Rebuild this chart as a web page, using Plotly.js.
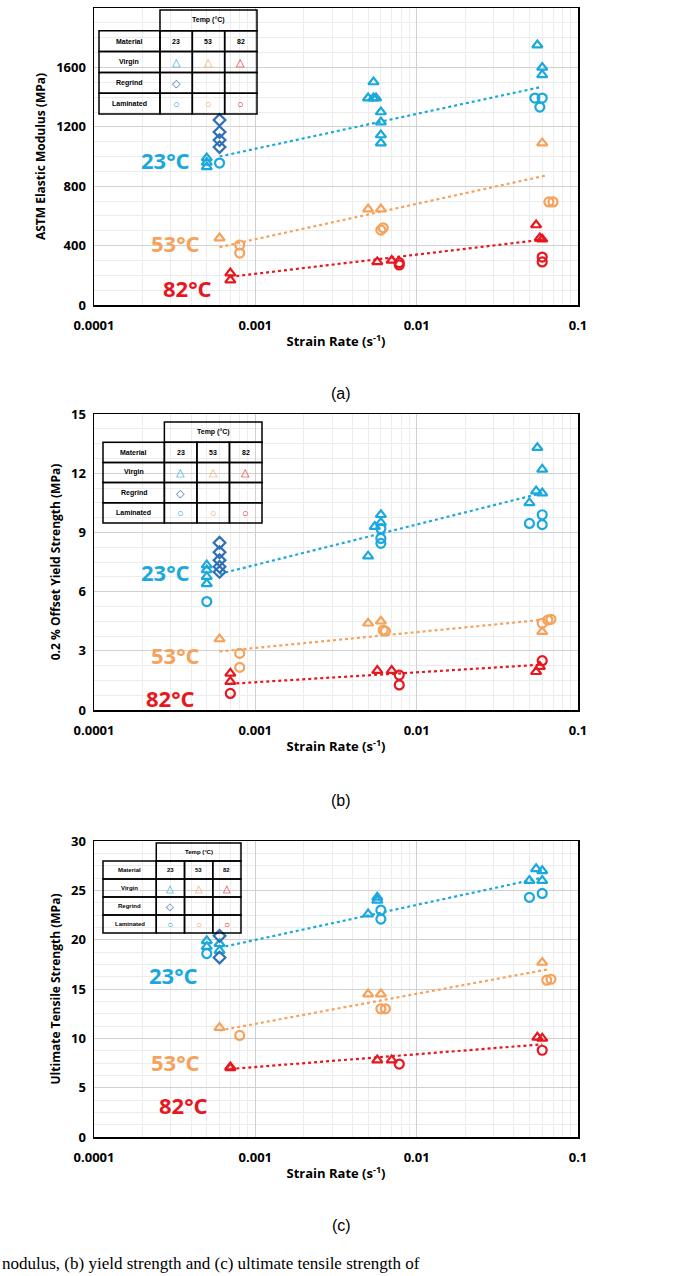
<!DOCTYPE html>
<html>
<head>
<meta charset="utf-8">
<script src="https://cdn.plot.ly/plotly-3.0.1.min.js"></script>
<style>body{margin:0;background:#fff}</style>
</head>
<body>
<div id="chart" style="width:682px;height:1276px"></div>
<script>
// ---- data (strain rate s^-1, property value) ----
// (a) ASTM elastic modulus, MPa
var a23vX = [0.0005,0.0005,0.0005,0.0054,0.005,0.0056,0.0054,0.006,0.006,0.006,0.006,0.056,0.06,0.06];
var a23vY = [930,960,990,1502,1394,1394,1394,1300,1232,1145,1091,1751,1600,1550];
var a23rX = [0.0006,0.0006,0.0006,0.0006];
var a23rY = [1246,1165,1111,1064];
var a23lX = [0.0006,0.054,0.06,0.058];
var a23lY = [956,1394,1394,1333];
var a53vX = [0.0006,0.005,0.006,0.06];
var a53vY = [451,646,646,1091];
var a53lX = [0.0008,0.0008,0.006,0.0062,0.066,0.07];
var a53lY = [404,350,505,520,694,694];
var a82vX = [0.0007,0.0007,0.0057,0.007,0.055,0.058,0.06];
var a82vY = [215,168,290,300,539,451,443];
var a82lX = [0.0078,0.0078,0.06,0.06];
var a82lY = [270,285,323,290];
var aTrendX = [[0.0006,0.06],[0.0006,0.065],[0.0007,0.06]];
var aTrendY = [[1000,1470],[390,875],[190,440]];

// (b) 0.2% offset yield strength, MPa
var b23vX = [0.0005,0.0005,0.0005,0.0005,0.005,0.0055,0.006,0.006,0.05,0.055,0.056,0.06,0.06];
var b23vY = [7.35,7.1,6.76,6.4,7.8,9.3,9.9,9.5,10.5,11.1,13.3,12.2,11.0];
var b23rX = [0.0006,0.0006,0.0006,0.0006,0.0006];
var b23rY = [8.48,8.0,7.6,7.26,7.0];
var b23lX = [0.0005,0.006,0.006,0.006,0.06,0.05,0.06];
var b23lY = [5.5,9.2,8.7,8.45,9.9,9.46,9.4];
var b53vX = [0.0006,0.005,0.006,0.06];
var b53vY = [3.6,4.4,4.5,3.97];
var b53lX = [0.0008,0.0008,0.0062,0.0064,0.06,0.065,0.068];
var b53lY = [2.87,2.16,4.05,4.0,4.4,4.56,4.6];
var b82vX = [0.0007,0.0007,0.0057,0.007,0.055,0.058];
var b82vY = [1.86,1.44,2.0,2.0,1.94,2.2];
var b82lX = [0.0007,0.0078,0.0078,0.06];
var b82lY = [0.84,1.77,1.27,2.5];
var bTrendX = [[0.0006,0.06],[0.0006,0.065],[0.0007,0.06]];
var bTrendY = [[6.9,11.0],[2.97,4.6],[1.33,2.3]];

// (c) ultimate tensile strength, MPa
var c23vX = [0.0005,0.0005,0.0006,0.0006,0.005,0.0057,0.0057,0.05,0.055,0.06,0.06];
var c23vY = [19.9,19.3,19.6,18.9,22.6,24.3,24.0,26.0,27.2,26.0,27.0];
var c23rX = [0.0006,0.0006];
var c23rY = [20.4,18.2];
var c23lX = [0.0005,0.006,0.006,0.05,0.06];
var c23lY = [18.6,23.0,22.1,24.3,24.7];
var c53vX = [0.0006,0.005,0.006,0.06];
var c53vY = [11.1,14.5,14.5,17.7];
var c53lX = [0.0008,0.006,0.0064,0.064,0.068];
var c53lY = [10.3,13.0,13.0,15.9,16.0];
var c82vX = [0.0007,0.0007,0.0057,0.007,0.056,0.06];
var c82vY = [7.1,7.0,7.8,7.8,10.1,10.0];
var c82lX = [0.0078,0.06];
var c82lY = [7.4,8.8];
var cTrendX = [[0.0006,0.06],[0.0006,0.065],[0.0007,0.06]];
var cTrendY = [[19.2,26.3],[10.8,17.0],[6.9,9.4]];

var temps = ['23°C','53°C','82°C'];
var xTickVals = [0.0001,0.001,0.01,0.1];
var xTickText = ['0.0001','0.001','0.01','0.1'];
var yTitles = ['ASTM Elastic Modulus (MPa)','0.2 % Offset Yield Strength (MPa)','Ultimate Tensile Strength (MPa)'];
var yRanges = [[0,2000.5],[0,15.01],[0,30.02]];
var yDtick = [400,3,5];
var captions = ['(a)','(b)','(c)'];

var cCyan = '#1ba8dd', cOrange = '#f5a35c', cRed = '#e8161e', cBlue = '#2f6fb5';
var tempColors = [cCyan, cOrange, cRed];
var W = 682, H = 1276;

function px(v){ return v / W; }
function py(v){ return 1 - v / H; }

var traces = [];
function pts(x, y, sym, col, ax){
  traces.push({x:x, y:y, type:'scatter', mode:'markers', xaxis:'x'+ax, yaxis:'y'+ax,
    marker:{symbol:sym, size:9, color:col, line:{color:col, width:2.2}},
    showlegend:false, hoverinfo:'x+y'});
}
function trend(tx, ty, ax){
  for (var i = 0; i < 3; i++) {
    traces.push({x:tx[i], y:ty[i], type:'scatter', mode:'lines', xaxis:'x'+ax, yaxis:'y'+ax,
      line:{color:tempColors[i], width:2.2, dash:'dot'}, showlegend:false, hoverinfo:'skip'});
  }
}

trend(aTrendX, aTrendY, '');
pts(a23vX,a23vY,'triangle-up-open',cCyan,''); pts(a23rX,a23rY,'diamond-open',cBlue,'');
pts(a23lX,a23lY,'circle-open',cCyan,''); pts(a53vX,a53vY,'triangle-up-open',cOrange,'');
pts(a53lX,a53lY,'circle-open',cOrange,''); pts(a82vX,a82vY,'triangle-up-open',cRed,'');
pts(a82lX,a82lY,'circle-open',cRed,'');

trend(bTrendX, bTrendY, '2');
pts(b23vX,b23vY,'triangle-up-open',cCyan,'2'); pts(b23rX,b23rY,'diamond-open',cBlue,'2');
pts(b23lX,b23lY,'circle-open',cCyan,'2'); pts(b53vX,b53vY,'triangle-up-open',cOrange,'2');
pts(b53lX,b53lY,'circle-open',cOrange,'2'); pts(b82vX,b82vY,'triangle-up-open',cRed,'2');
pts(b82lX,b82lY,'circle-open',cRed,'2');

trend(cTrendX, cTrendY, '3');
pts(c23vX,c23vY,'triangle-up-open',cCyan,'3'); pts(c23rX,c23rY,'diamond-open',cBlue,'3');
pts(c23lX,c23lY,'circle-open',cCyan,'3'); pts(c53vX,c53vY,'triangle-up-open',cOrange,'3');
pts(c53lX,c53lY,'circle-open',cOrange,'3'); pts(c82vX,c82vY,'triangle-up-open',cRed,'3');
pts(c82lX,c82lY,'circle-open',cRed,'3');

// panel boxes in page pixels: [top, bottom]
var panels = [[8,305],[414,710],[841,1137]];
var plotL = 94, plotR = 578;

var layout = {
  width:W, height:H, margin:{l:0,r:0,t:0,b:0},
  paper_bgcolor:'#fff', plot_bgcolor:'#fff',
  font:{family:'Open Sans, Liberation Sans, sans-serif', color:'#000'},
  shapes:[], annotations:[]
};

['', '2', '3'].forEach(function(ax, i){
  var p = panels[i];
  layout['xaxis'+ax] = {
    type:'log', range:[-4,-1], domain:[px(plotL), px(plotR)],
    anchor:'y'+ax, tickvals:xTickVals, ticktext:xTickText,
    tickfont:{size:13, weight:'bold'}, ticklabelstandoff:8,
    showline:true, mirror:true, linecolor:'#000', linewidth:1.5,
    gridcolor:'#d0d0d0', gridwidth:1, zeroline:false, ticks:'',
    minor:{showgrid:true, gridcolor:'#ececec', dtick:'D1'},
    title:{text:'Strain Rate (s<sup>-1</sup>)', font:{size:13, weight:'bold'}, standoff:4}
  };
  layout['yaxis'+ax] = {
    range:yRanges[i], dtick:yDtick[i], domain:[py(p[1]), py(p[0])],
    anchor:'x'+ax, tickfont:{size:13, weight:'bold'}, ticklabelstandoff:4,
    showline:true, mirror:true, linecolor:'#000', linewidth:1.5,
    gridcolor:'#d0d0d0', zeroline:false, ticks:'',
    minor:{showgrid:true, gridcolor:'#ececec', dtick:yDtick[i]/4},
    title:{text:yTitles[i], font:{size:12, weight:'bold'}, standoff:8}
  };
});

function note(x, y, s, font){
  layout.annotations.push({xref:'paper', yref:'paper', x:px(x), y:py(y), xanchor:'center', yanchor:'middle',
    text:s, showarrow:false, font:font});
}

// temperature labels next to the lines
var tempLabelPos = [
  [[165,160],[175,243],[188,288]],
  [[165,572],[175,655],[170,698]],
  [[173,975],[175,1062],[183,1105]]
];
tempLabelPos.forEach(function(set){
  set.forEach(function(pp, j){
    note(pp[0], pp[1], temps[j], {size:22, color:tempColors[j], weight:'bold'});
  });
});

// the little key table in each panel: [left, top, right, bottom]
var tables = [[99,10,257,114],[103,422,262,523],[103,843,241,933]];
var rowNames = ['Material','Virgin','Regrind','Laminated'];
var tempNums = ['23','53','82'];
var keySyms = [['△','△','△'],['◇','',''],['○','○','○']];
var keyCols = [[cCyan,cOrange,cRed],[cBlue,'',''],[cCyan,cOrange,cRed]];
tables.forEach(function(t){
  var w = t[2]-t[0], h = t[3]-t[1], rh = h/5;
  var cx = [t[0], t[0]+w*0.386, t[0]+w*0.386+w*0.614/3, t[0]+w*0.386+2*w*0.614/3, t[2]];
  var fs = w > 150 ? 7 : 6;
  function box(x0,y0,x1,y1){
    layout.shapes.push({type:'rect', xref:'paper', yref:'paper', x0:px(x0), x1:px(x1), y0:py(y1), y1:py(y0),
      line:{color:'#000', width:1.5}, fillcolor:'rgba(255,255,255,0)', layer:'above'});
  }
  function txt(x,y,s,col,size,bold){
    note(x, y, s, {size:size, color:col, weight:bold?'bold':'normal', family:'Liberation Sans, sans-serif'});
  }
  layout.shapes.push({type:'rect', xref:'paper', yref:'paper', x0:px(t[0]), x1:px(t[2]), y0:py(t[3]), y1:py(t[1]),
    line:{width:0}, fillcolor:'#fff', layer:'below'});
  box(cx[1], t[1], t[2], t[1]+rh);
  txt((cx[1]+t[2])/2, t[1]+rh/2, 'Temp (°C)', '#000', fs, true);
  for (var r = 0; r < 4; r++) {
    var y0 = t[1]+rh*(r+1), y1 = y0+rh;
    for (var c = 0; c < 4; c++) box(cx[c], y0, cx[c+1], y1);
    txt((cx[0]+cx[1])/2, (y0+y1)/2, rowNames[r], '#000', fs, true);
    for (var k = 0; k < 3; k++) {
      var xm = (cx[k+1]+cx[k+2])/2;
      if (r === 0) txt(xm, (y0+y1)/2, tempNums[k], '#000', fs, true);
      else if (keySyms[r-1][k]) txt(xm, (y0+y1)/2, keySyms[r-1][k], keyCols[r-1][k], fs+4, false);
    }
  }
});

// captions under each panel
[393,800,1225].forEach(function(yy, i){
  note(341, yy, captions[i], {size:16, family:'Liberation Sans, sans-serif'});
});
layout.annotations.push({xref:'paper', yref:'paper', x:0, xanchor:'left', y:py(1263), yanchor:'middle',
  text:'nodulus, (b) yield strength and (c) ultimate tensile strength of', showarrow:false,
  font:{size:17, family:'Liberation Serif, serif'}});

Plotly.newPlot('chart', traces, layout, {displayModeBar:false, staticPlot:true});
</script>
</body>
</html>
